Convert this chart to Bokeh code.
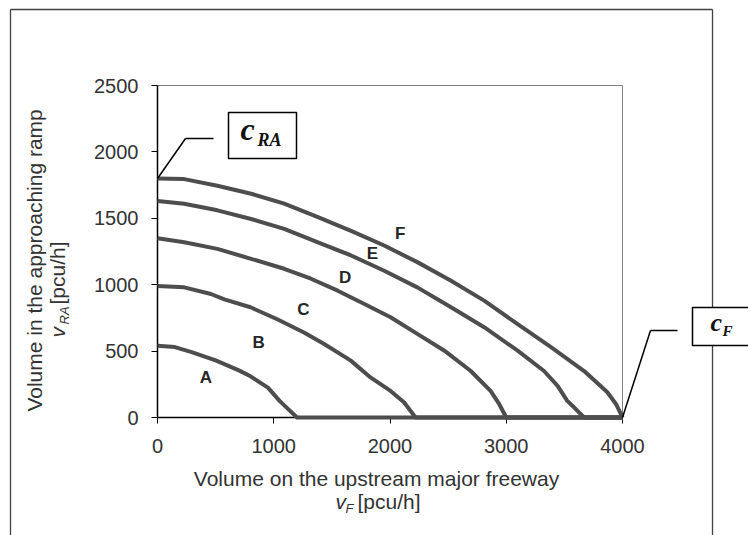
import math
from bokeh.plotting import figure
from bokeh.models import Label, Arrow, BoxAnnotation, Range1d, FixedTicker, LinearAxis
from bokeh.core.properties import value
from bokeh.embed import file_html
from bokeh.resources import INLINE

# ---------------- data ----------------
x_ticks = [0, 1000, 2000, 3000, 4000]
y_ticks = [0, 500, 1000, 1500, 2000, 2500]
CF = 4000   # freeway capacity c_F
CRA = 1800  # ramp capacity c_RA

curve_A_x = [0, 150, 300, 500, 700, 800, 950, 1050, 1200]
curve_A_y = [540, 530, 490, 430, 355, 310, 225, 125, 0]

curve_B_x = [0, 230, 460, 575, 800, 1030, 1260, 1430, 1660, 1835, 2005, 2120, 2220]
curve_B_y = [990, 980, 930, 890, 830, 740, 640, 555, 430, 300, 200, 115, 0]

curve_C_x = [0, 230, 515, 805, 1090, 1320, 1550, 1780, 2005, 2235, 2465, 2695, 2865, 2940, 3000]
curve_C_y = [1350, 1320, 1270, 1195, 1120, 1045, 955, 855, 755, 630, 505, 350, 200, 100, 0]

curve_D_x = [0, 230, 515, 805, 1090, 1375, 1665, 1950, 2235, 2525, 2810, 3095, 3325, 3440, 3525, 3585, 3670]
curve_D_y = [1630, 1610, 1560, 1495, 1420, 1320, 1220, 1105, 980, 830, 680, 505, 350, 240, 125, 75, 0]

curve_E_x = [0, 230, 515, 805, 1090, 1375, 1665, 1950, 2235, 2525, 2810, 3095, 3385, 3670, 3870, 3945, 4000]
curve_E_y = [1800, 1795, 1745, 1685, 1610, 1510, 1405, 1295, 1170, 1030, 880, 705, 530, 350, 190, 100, 0]

los_labels = ["A", "B", "C", "D", "E", "F"]
los_label_x = [416, 869, 1256, 1614, 1849, 2087]
los_label_y = [302, 565, 817, 1055, 1236, 1382]

# ---------------- geometry (canvas pixels) ----------------
W, H = 748, 535
FL, FR, FT, FB = 157, 622, 85, 417   # where the data area sits on the canvas


def dx(px):
    return (px - FL) / (FR - FL) * (x_ticks[-1] - x_ticks[0])


def dy(py):
    return (FB - py) / (FB - FT) * (y_ticks[-1] - y_ticks[0])


# the frame spans the whole canvas; the axes are pinned at x=0 / y=0
p = figure(width=W, height=H, output_backend="svg", toolbar_location=None,
           x_range=Range1d(dx(0), dx(W)), y_range=Range1d(dy(H), dy(0)),
           x_axis_type=None, y_axis_type=None,
           min_border=0, min_border_left=0, min_border_right=0,
           min_border_top=0, min_border_bottom=0)
p.grid.visible = False
p.outline_line_color = None
p.background_fill_color = "white"
p.border_fill_color = "white"

xaxis = LinearAxis(fixed_location=0, bounds=(x_ticks[0], x_ticks[-1]),
                   ticker=FixedTicker(ticks=x_ticks))
yaxis = LinearAxis(fixed_location=0, bounds=(y_ticks[0], y_ticks[-1]),
                   ticker=FixedTicker(ticks=y_ticks))
for ax in (xaxis, yaxis):
    ax.axis_line_color = "black"
    ax.axis_line_width = 1.5
    ax.major_tick_line_color = "black"
    ax.major_tick_line_width = 1
    ax.major_tick_out = 6
    ax.major_tick_in = 0
    ax.minor_tick_out = 0
    ax.minor_tick_in = 0
    ax.major_label_text_font = "Liberation Sans"
    ax.major_label_text_font_size = "20px"
    ax.major_label_text_color = "#333333"
yaxis.major_label_standoff = 13
xaxis.major_label_standoff = 15
p.add_layout(xaxis, "below")
p.add_layout(yaxis, "left")

# grey top/right edges of the plot area
p.segment(x0=[x_ticks[0], x_ticks[-1]], y0=[y_ticks[-1], y_ticks[0]],
          x1=[x_ticks[-1], x_ticks[-1]], y1=[y_ticks[-1], y_ticks[-1]],
          line_color="#808080", line_width=1)

# outer frame of the figure (open at the bottom)
frame_col = "#404040"
box_ra = (228, 112, 296, 158)  # l, t, r, b in canvas px
box_cf = (692, 307, 770, 345)
segs = [((10, 9), (10, 545)), ((10, 9), (712, 9)),
        ((712, 9), (712, 545))]
for (x0, y0), (x1, y1) in segs:
    p.add_layout(Arrow(end=None, x_start=dx(x0), y_start=dy(y0), x_end=dx(x1), y_end=dy(y1),
                       line_color=frame_col, line_width=1.3))

# curves
col = "#4d4d4d"
for xs, ys in [(curve_A_x, curve_A_y), (curve_B_x, curve_B_y), (curve_C_x, curve_C_y),
               (curve_D_x, curve_D_y), (curve_E_x, curve_E_y)]:
    p.line(xs + [CF], ys + [0], line_color=col, line_width=4, line_join="round",
           level="annotation")

p.text(x=los_label_x, y=los_label_y, text=los_labels, text_font=value("Liberation Sans"),
       text_font_style="bold", text_font_size="17px", text_align="center",
       text_baseline="middle", text_color="#262626")

# leader lines
leaders = [[(0, CRA), (dx(185), dy(138)), (dx(213), dy(138))],
           [(CF, 0), (dx(650), dy(330)), (dx(677), dy(330))]]
for pts in leaders:
    for (x0, y0), (x1, y1) in zip(pts[:-1], pts[1:]):
        p.add_layout(Arrow(end=None, x_start=x0, y_start=y0, x_end=x1, y_end=y1,
                           line_color="black", line_width=1.5))

# boxes
for (l, t, r, b) in [box_ra, box_cf]:
    p.add_layout(BoxAnnotation(left=dx(l), right=dx(r), top=dy(t), bottom=dy(b),
                               fill_color="white", fill_alpha=1.0,
                               line_color="black", line_alpha=1.0, line_width=1.5,
                               level="overlay"))

K = 0.44  # baseline correction, in em


def lab(text, px, py, size, font="Liberation Sans", style="normal", align="left",
        angle=0.0, color="#262626"):
    if angle == 0.0:
        py = py - K * size
    else:
        px = px - K * size
    p.add_layout(Label(x=dx(px), y=dy(py), text=text, text_font=font, text_font_style=style,
                       text_font_size=f"{size}px", text_align=align, text_baseline="alphabetic",
                       angle=angle, text_color=color, level="overlay"))


# capacity labels
lab("c", 240, 143, 32, font="Liberation Serif", style="bold italic", color="#111111")
lab("RA", 257, 147, 18, font="Liberation Serif", style="bold italic", color="#111111")
lab("c", 710, 333, 26, font="Liberation Serif", style="bold italic", color="#111111")
lab("F", 722, 337, 15, font="Liberation Serif", style="bold italic", color="#111111")

# x axis title
lab("Volume on the upstream major freeway", 376, 487, 21, align="center", color="#333333")
lab("v", 335, 510, 21, style="italic", color="#333333")
lab("F", 345, 514, 13, style="italic", color="#333333")
lab("[pcu/h]", 357, 510, 21, color="#333333")

# y axis title (rotated)
rot = math.pi / 2
lab("Volume in the approaching  ramp", 43, 257, 21, align="center", angle=rot, color="#333333")
lab("v", 66, 337, 21, style="italic", angle=rot, color="#333333")
lab("RA", 70, 324, 13, style="italic", angle=rot, color="#333333")
lab("[pcu/h]", 66, 304, 21, angle=rot, color="#333333")

open("out.html", "w").write(file_html(p, INLINE))
